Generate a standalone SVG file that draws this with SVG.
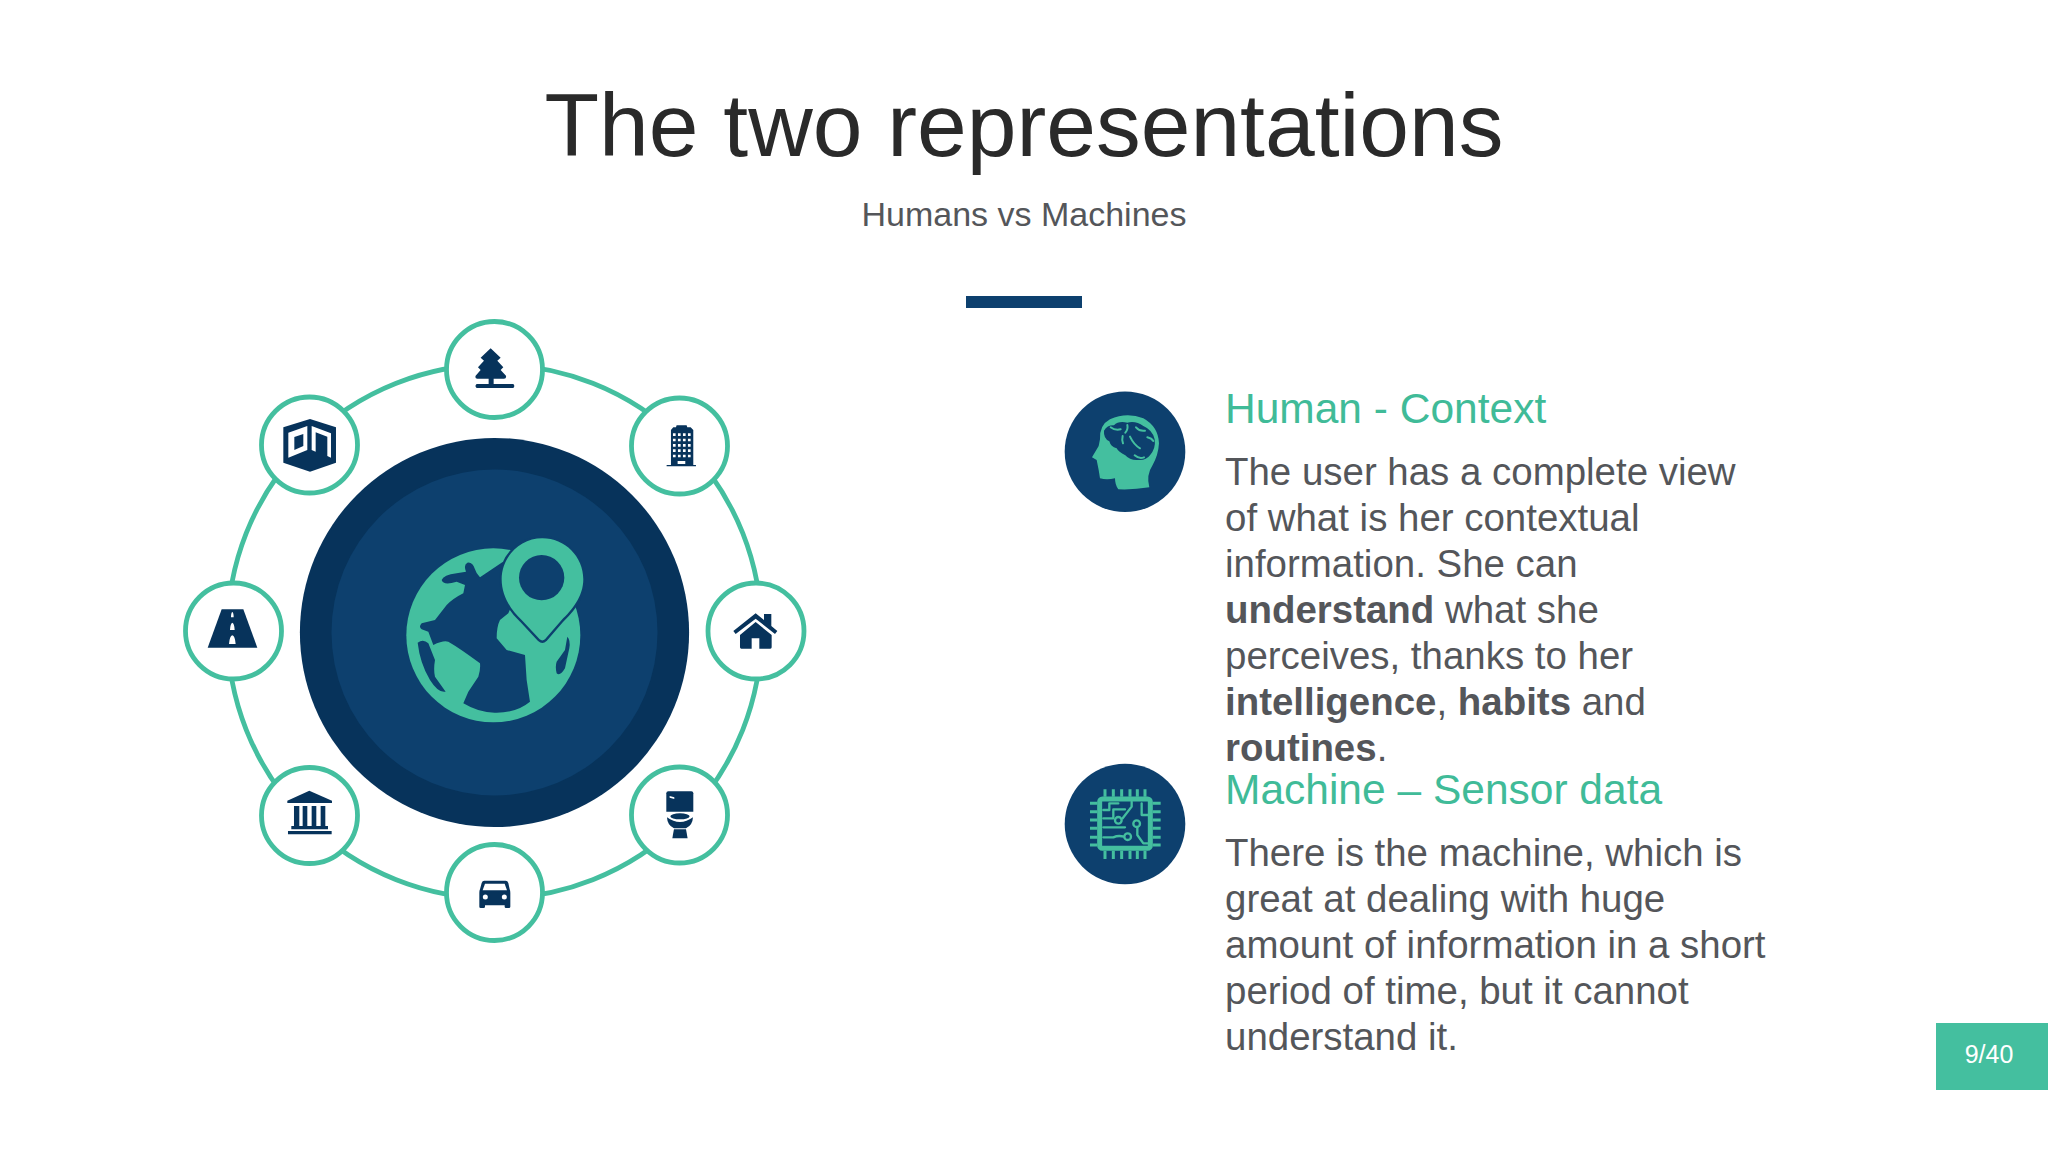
<svg xmlns="http://www.w3.org/2000/svg" width="2048" height="1152" viewBox="0 0 2048 1152">
<style>
text{font-family:"Liberation Sans",Arial,sans-serif}
.t{font-size:89.4px;fill:#2a2a2a;text-anchor:middle}
.s{font-size:34px;fill:#54565a;text-anchor:middle}
.h{font-size:42.5px;fill:#40bb98}
.b{font-size:38.45px;fill:#54565a}
.b tspan{font-weight:700}
.ring{fill:none;stroke:#44bf9f;stroke-width:4.8}
.n{fill:#fff;stroke:#44bf9f;stroke-width:4.8}
.d{fill:#07335b}
.w{fill:#fff}
.g{fill:#44bf9f}
.o{fill:#0d406e}
.gl{fill:none;stroke:#44bf9f;stroke-linecap:round;stroke-linejoin:round}
</style>
<rect width="2048" height="1152" fill="#fff"/>
<text class="t" x="1024" y="156">The two representations</text>
<text class="s" x="1024" y="226">Humans vs Machines</text>
<rect x="966" y="296" width="116" height="12" class="o"/>
<g id="connectors"><circle class="ring" cx="494.5" cy="631.500" r="267"/></g>
<g id="hub">
<circle cx="494.5" cy="632.5" r="194.6" class="d"/>
<circle cx="494.5" cy="632.5" r="163" class="o"/>
<g transform="translate(380 520) scale(.3333)">
<circle cx="340" cy="346" r="261" class="g"/>
<path class="o" d="M368 126 L300 172 Q288 160 285 148 Q278 125 262 128 Q250 135 258 155 L230 160 Q190 165 185 180 Q190 198 230 185 L255 195 L250 220 Q220 235 200 255 L165 300 L125 310 Q115 320 125 328 L145 335 L160 375 Q190 360 205 365 Q240 385 300 430 Q302 450 295 470 L265 515 L250 550 Q300 580 350 578 Q410 578 450 545 L440 480 L435 405 L380 390 L350 355 Q350 320 360 300 L385 280 L420 200z"/>
<path class="o" d="M113 368 Q130 355 145 370 L165 420 Q160 450 165 470 L197 515 Q175 520 150 480 Q120 430 113 368z"/>
<path class="o" d="M562 350 Q572 360 568 385 L555 445 Q540 470 530 460 Q525 440 530 425 L555 390z"/>
<path class="g" style="stroke:#0d406e;stroke-width:14;paint-order:stroke" d="M487 55 C555 55 610 110 610 178 C610 230 575 272 545 300 L495 358 Q487 365 479 358 L425 300 C395 272 365 230 365 178 C365 110 420 55 487 55z"/>
<circle cx="485" cy="173" r="68" class="o"/>
</g>
</g>
<g id="node-tree"><circle class="n" cx="494.5" cy="369.5" r="48"/>
<path class="d" transform="translate(250 310) scale(.3333)" d="M722 115 L752 143 L742 152 L760 172 L752 180 L768 197 Q770 206 762 206 H731 V222 H790 Q796 228 790 234 H680 Q673 228 680 222 H716 V206 H682 Q674 206 677 197 L692 180 L684 172 L702 152 L692 143z"/>
</g>
<g id="node-building"><circle class="n" cx="679.5" cy="446" r="48"/>
<g transform="translate(250 310) scale(.3333)">
<path class="d" d="M1280 346 H1310 L1312 352 H1322 L1330 360 V465 H1338 V469 H1250 V465 H1263 V360 L1270 352 H1278z"/>
<path class="w" d="M1269 370h8v8h-8zM1284 370h8v8h-8zM1299 370h8v8h-8zM1314 370h8v8h-8zM1269 386h8v8h-8zM1284 386h8v8h-8zM1299 386h8v8h-8zM1314 386h8v8h-8zM1269 402h8v8h-8zM1284 402h8v8h-8zM1299 402h8v8h-8zM1314 402h8v8h-8zM1269 418h8v8h-8zM1284 418h8v8h-8zM1299 418h8v8h-8zM1314 418h8v8h-8zM1269 434h8v8h-8zM1284 434h8v8h-8zM1299 434h8v8h-8zM1314 434h8v8h-8zM1283 453h23v9h-23z"/>
</g></g>
<g id="node-house"><circle class="n" cx="756" cy="631" r="48"/>
<g transform="translate(690 570) scale(.3333)">
<path class="d" d="M222 132 H244 V168 L262 183 L255 192 L197 146 L137 192 L130 183 L197 130 L222 150z"/>
<path class="d" d="M197 156 L245 195 V232 Q245 236 241 236 H208 V205 H185 V236 H154 Q150 236 150 232 V195z"/>
</g></g>
<g id="node-toilet"><circle class="n" cx="679.5" cy="815" r="48"/>
<g transform="translate(420 760) scale(.3333)">
<path class="d" d="M745 94 H814 Q820 94 820 100 V155 H739 V100 Q739 94 745 94z"/>
<path class="w" d="M749 108 L763 112 V117 L749 113z"/>
<ellipse cx="780" cy="169" rx="29" ry="9" class="d"/>
<path class="d" d="M741 172 Q760 186 780 186 Q800 186 819 172 Q818 196 798 205 H762 Q742 196 741 172z"/>
<path class="d" d="M762 208 H798 L803 235 H757z"/>
</g></g>
<g id="node-car"><circle class="n" cx="494.5" cy="892.5" r="48"/>
<g transform="translate(420 760) scale(.3333)">
<path class="d" d="M193 362 H257 Q263 362 265 369 L269 388 Q271 392 271 398 V440 Q271 444 267 444 H258 Q254 444 254 440 V436 H195 V440 Q195 444 191 444 H182 Q178 444 178 440 V398 Q178 392 180 388 L185 369 Q187 362 193 362z"/>
<path class="w" d="M195 371 H254 L261 391 H188z"/>
<circle cx="196" cy="411" r="7.5" class="w"/><circle cx="253" cy="411" r="7.5" class="w"/>
</g></g>
<g id="node-bank"><circle class="n" cx="309.5" cy="815.5" r="48"/>
<g transform="translate(170 570) scale(.3333)">
<path class="d" d="M418 662 L486 692 V699 H352 V692z"/>
<path class="d" d="M372 708h16v60h-16zM398 708h14v60h-14zM425 708h14v60h-14zM452 708h14v60h-14zM364 768h110v10h-110zM354 783h131v10h-131z"/>
</g></g>
<g id="node-road"><circle class="n" cx="233.5" cy="631" r="48"/>
<g transform="translate(170 570) scale(.3333)">
<path class="d" d="M155 118 H220 L262 233 H113z"/>
<path class="w" d="M187 126 Q191 128 191 142 H183 Q183 128 187 126z M187 158 Q193 160 194 180 H180 Q181 160 187 158z M187 196 Q195 198 197 222 H177 Q179 198 187 196z"/>
</g></g>
<g id="node-cube"><circle class="n" cx="309.5" cy="445" r="48"/>
<g transform="translate(250 310) scale(.3333)">
<path class="d" d="M180 327 L258 352 V458 L180 485 L100 458 V352z"/>
<path class="w" fill-rule="evenodd" d="M115 368 L172 348 V420 L115 443z M133 381 V420 L160 408 V372z"/>
<path class="w" d="M185 348 L243 370 V443 L232 438 V380 L197 367 V425 L185 420z"/>
</g></g>
<g id="node-brain">
<circle cx="1125" cy="451.7" r="60.3" class="o"/>
<g transform="translate(1050 380) scale(.3333)">
<path class="g" d="M150 178 Q148 135 180 118 Q230 95 280 115 Q325 140 327 190 Q325 225 308 255 Q288 285 298 322 Q250 330 205 328 Q195 315 195 295 Q170 300 150 295 L146 270 L140 240 L126 232 L146 198z"/>
<path class="o" d="M162 152 Q172 135 192 136 Q205 122 232 128 Q258 122 280 138 Q308 150 314 178 Q318 205 300 226 Q288 242 265 240 Q240 242 226 226 Q205 215 200 205 Q182 200 178 184 Q160 175 162 152z"/>
<path class="gl" stroke-width="6" d="M182 142 Q195 152 212 148M232 135 Q235 148 226 158M258 142 Q270 155 285 152M292 172 Q305 175 310 183M218 168 Q215 180 219 190M240 170 Q252 195 270 205M254 226 Q268 238 282 232"/>
</g></g>
<g id="node-chip">
<circle cx="1125" cy="824" r="60.3" class="o"/>
<g transform="translate(1050 750) scale(.3333)">
<rect x="149" y="147" width="152" height="148" rx="8" fill="none" stroke="#44bf9f" stroke-width="15"/>
<path class="gl" stroke-width="9" stroke-linecap="butt" style="stroke-linecap:butt" d="M165 118V140M190 118V140M215 118V140M240 118V140M262 118V140M285 118V140M165 302V327M190 302V327M215 302V327M240 302V327M262 302V327M285 302V327M120 160H142M120 185H142M120 210H142M120 235H142M120 262H142M120 285H142M308 160H332M308 185H332M308 210H332M308 235H332M308 262H332M308 285H332"/>
<path class="gl" stroke-width="7" d="M160 180H178V160H205M160 205H190V178H225M160 232H225M218 205L245 170V155M160 262H190Q205 255 222 260M262 232V255L280 280H295M275 160V195H295"/>
<circle cx="205" cy="211" r="10" fill="#0d406e" stroke="#44bf9f" stroke-width="7"/>
<circle cx="260" cy="221" r="10" fill="#0d406e" stroke="#44bf9f" stroke-width="7"/>
<circle cx="233" cy="260" r="10" fill="#0d406e" stroke="#44bf9f" stroke-width="7"/>
</g></g>
<text class="h" x="1225" y="423">Human - Context</text>
<text class="b" x="1225" y="484.500">The user has a complete view</text>
<text class="b" x="1225" y="530.500">of what is her contextual</text>
<text class="b" x="1225" y="576.500">information. She can</text>
<text class="b" x="1225" y="622.500"><tspan>understand</tspan> what she</text>
<text class="b" x="1225" y="668.500">perceives, thanks to her</text>
<text class="b" x="1225" y="714.500"><tspan>intelligence</tspan>, <tspan>habits</tspan> and</text>
<text class="b" x="1225" y="760.500"><tspan>routines</tspan>.</text>
<text class="h" x="1225" y="804">Machine – Sensor data</text>
<text class="b" x="1225" y="866">There is the machine, which is</text>
<text class="b" x="1225" y="912">great at dealing with huge</text>
<text class="b" x="1225" y="958">amount of information in a short</text>
<text class="b" x="1225" y="1004">period of time, but it cannot</text>
<text class="b" x="1225" y="1050">understand it.</text>
<rect x="1936" y="1023" width="112" height="67" class="g"/>
<text x="1989" y="1063" font-size="25" fill="#fff" text-anchor="middle">9/40</text>
</svg>
